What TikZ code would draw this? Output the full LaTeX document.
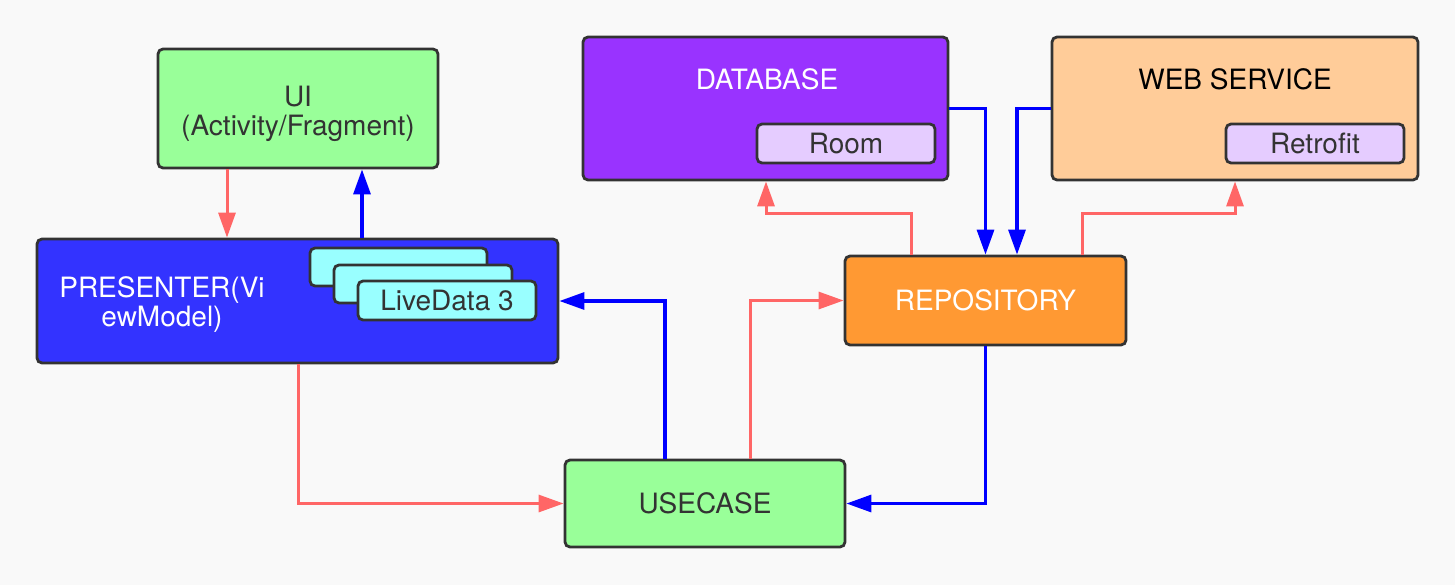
\documentclass[tikz,border=0pt]{standalone}
\usepackage{fontspec}
\setmainfont{TeX Gyre Heros}
\usetikzlibrary{arrows.meta}
\definecolor{bgcol}{HTML}{F9F9F9}
\definecolor{edgecol}{HTML}{333333}
\definecolor{uigreen}{HTML}{99FF99}
\definecolor{presblue}{HTML}{3333FF}
\definecolor{livecyan}{HTML}{99FFFF}
\definecolor{dbpurple}{HTML}{9933FF}
\definecolor{libpurple}{HTML}{E5CCFF}
\definecolor{webpeach}{HTML}{FFCC99}
\definecolor{repoorange}{HTML}{FF9933}
\definecolor{flowred}{HTML}{FF6666}
\definecolor{flowblue}{HTML}{0000FF}
\tikzset{
	box/.style={draw=edgecol, line width=1.4pt, rounded corners=2.5pt, inner sep=0pt, text=edgecol},
	lbl/.style={font=\fontsize{14}{14.5}\selectfont, align=center},
	redflow/.style={draw=flowred, line width=1.5pt, -{Triangle[length=12.5pt, width=8.5pt]}},
	blueflow/.style={draw=flowblue, line width=1.6pt, -{Triangle[length=12.5pt, width=8.5pt]}}
}
\begin{document}
\begin{tikzpicture}[x=0.5pt, y=-0.5pt]
		\fill[bgcol] (0,0) rectangle (1455,585);
		\useasboundingbox (0,0) rectangle (1455,585);

		\node[box, fill=uigreen, minimum width=140pt, minimum height=59.5pt] (ui) at (298,108.5) {};
		\node[lbl, text=edgecol] (uilabel) at (298,114) {UI\\(Activity/Fragment)};
		\node[box, fill=presblue, minimum width=260.5pt, minimum height=62pt] (pres) at (297.5,301) {};
		\node[lbl, text=white] (preslabel) at (162,304) {PRESENTER(Vi\\ewModel)};
		\node[box, fill=livecyan, minimum width=88.5pt, minimum height=19pt] (live1) at (398.5,267) {};
		\node[box, fill=livecyan, minimum width=89pt, minimum height=19pt] (live2) at (423,284) {};
		\node[box, lbl, fill=livecyan, minimum width=89pt, minimum height=19.5pt] (live3) at (447,300.5) {LiveData 3};

		\node[box, fill=dbpurple, minimum width=182.5pt, minimum height=71.5pt] (db) at (765.5,108.5) {};
		\node[lbl, text=white] (dblabel) at (767,79) {DATABASE};
		\node[box, lbl, fill=libpurple, minimum width=89pt, minimum height=19.5pt] (room) at (846,143.5) {Room};

		\node[box, fill=webpeach, minimum width=183pt, minimum height=71.5pt] (web) at (1235,108.5) {};
		\node[lbl, text=black] (weblabel) at (1235,79) {WEB SERVICE};
		\node[box, lbl, fill=libpurple, minimum width=89pt, minimum height=19.5pt] (retro) at (1315,143.5) {Retrofit};

		\node[box, lbl, fill=repoorange, text=white, minimum width=140.5pt, minimum height=44.5pt] (repo) at (985.5,300.5) {REPOSITORY};
		\node[box, lbl, fill=uigreen, minimum width=140pt, minimum height=43.5pt] (use) at (705,503.5) {USECASE};

		\draw[redflow] (ui.south -| 227,0) -- (pres.north -| 227,0);
		\draw[blueflow] (pres.north -| 362,0) -- (ui.south -| 362,0);
		\draw[blueflow] (use.north -| 665,0) |- (pres.east);
		\draw[redflow] (use.north -| 750,0) |- (repo.west);
		\draw[redflow] (pres.south -| 298,0) |- (use.west);
		\draw[blueflow] (repo.south) |- (use.east);

		\draw[redflow] (repo.north -| 911,0) -- ++(0,-41) -| (db.south -| 766,0);
		\draw[blueflow] (db.east) -| (repo.north);
		\draw[blueflow] (web.west) -| (repo.north -| 1017,0);
		\draw[redflow] (repo.north -| 1082,0) -- ++(0,-41) -| (web.south -| 1235,0);
	\end{tikzpicture}
\end{document}
